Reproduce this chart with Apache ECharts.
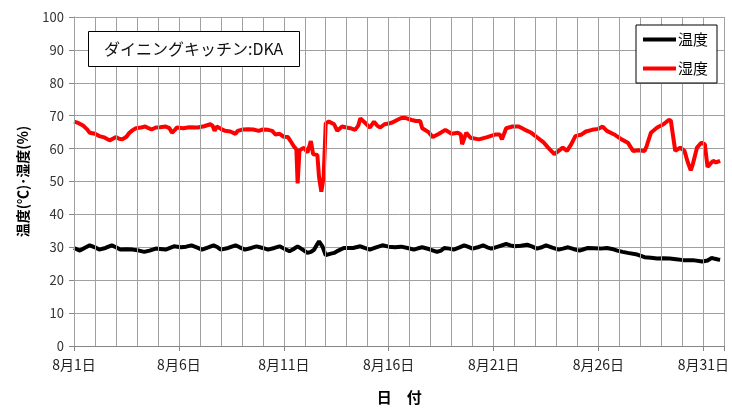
<!DOCTYPE html>
<html>
<head>
<meta charset="utf-8">
<script src="https://cdn.jsdelivr.net/npm/echarts@6/dist/echarts.min.js"></script>
<style>html,body{margin:0;padding:0;background:#fff}#c{width:732px;height:410px}</style>
</head>
<body>
<div id="c"></div>
<script>
// x values: days elapsed since 8月1日 00:00
const dayCategories = ['8月1日','8月2日','8月3日','8月4日','8月5日','8月6日','8月7日','8月8日','8月9日','8月10日','8月11日','8月12日','8月13日','8月14日','8月15日','8月16日','8月17日','8月18日','8月19日','8月20日','8月21日','8月22日','8月23日','8月24日','8月25日','8月26日','8月27日','8月28日','8月29日','8月30日','8月31日'];
const xTickDays = [0, 5, 10, 15, 20, 25, 30];
const humDays = [0.0,0.2,0.43,0.6,0.75,1.0,1.2,1.45,1.7,1.85,2.0,2.15,2.3,2.5,2.64,2.8,2.95,3.2,3.4,3.55,3.7,3.9,4.1,4.37,4.55,4.67,4.8,4.9,5.2,5.5,5.9,6.2,6.5,6.6,6.7,6.8,7.0,7.2,7.45,7.7,7.8,8.05,8.3,8.55,8.8,9.0,9.25,9.45,9.6,9.8,10.0,10.2,10.35,10.5,10.6,10.66,10.75,10.97,11.13,11.29,11.4,11.6,11.68,11.79,11.9,12.0,12.15,12.4,12.55,12.78,13.0,13.17,13.4,13.55,13.65,13.9,14.1,14.3,14.45,14.6,14.8,15.0,15.2,15.4,15.6,15.75,16.1,16.3,16.5,16.6,16.9,17.1,17.4,17.7,18.0,18.3,18.44,18.5,18.7,18.9,19.3,19.7,20.1,20.3,20.4,20.6,20.9,21.2,21.5,21.8,22.1,22.4,22.6,22.9,23.1,23.3,23.5,23.7,23.9,24.2,24.4,24.7,25.0,25.2,25.4,25.75,26.1,26.4,26.65,26.9,27.2,27.3,27.5,27.8,28.1,28.35,28.45,28.66,28.9,29.1,29.25,29.4,29.5,29.7,29.9,30.07,30.2,30.35,30.47,30.6,30.8];
const humValues = [68.2,67.8,67.0,66.0,64.8,64.5,63.8,63.4,62.5,63.0,63.5,63.0,62.8,63.6,64.8,65.6,66.2,66.4,66.7,66.2,65.8,66.4,66.5,66.7,66.2,64.8,65.6,66.4,66.2,66.5,66.4,66.8,67.4,67.0,65.4,66.7,66.0,65.4,65.2,64.5,65.4,65.8,65.9,65.8,65.4,65.8,65.7,65.4,64.3,64.5,63.6,63.5,62.0,60.5,59.8,49.4,59.5,60.3,58.8,62.3,58.3,58.1,51.4,46.9,51.4,67.7,68.2,67.4,65.4,66.7,66.4,66.2,65.7,67.0,69.2,67.7,66.4,68.2,67.0,66.4,67.4,67.6,68.0,68.7,69.3,69.4,68.7,68.4,68.4,66.2,65.0,63.5,64.5,65.7,64.5,64.8,64.3,61.3,64.8,63.3,62.8,63.5,64.3,64.3,62.8,66.2,66.7,66.7,65.7,64.8,63.3,61.8,60.3,58.3,59.3,60.3,59.3,61.3,63.8,64.3,65.2,65.7,66.0,66.7,65.4,64.3,62.8,61.8,59.3,59.5,59.3,60.8,64.8,66.4,67.4,68.7,68.5,59.3,60.3,59.3,56.0,53.4,55.3,60.3,61.8,61.3,54.4,55.5,56.3,55.8,56.3];
const tempDays = [0.0,0.28,0.5,0.75,1.0,1.2,1.5,1.8,2.0,2.2,2.5,2.8,3.1,3.35,3.6,3.9,4.1,4.37,4.76,5.1,5.35,5.6,5.85,6.1,6.4,6.65,6.85,7.0,7.35,7.7,7.9,8.15,8.45,8.7,9.0,9.25,9.55,9.8,10.05,10.27,10.45,10.66,10.9,11.13,11.3,11.45,11.6,11.68,11.76,11.84,12.0,12.2,12.4,12.6,12.86,13.1,13.3,13.65,13.85,14.1,14.4,14.7,15.0,15.3,15.6,15.9,16.2,16.4,16.6,16.95,17.3,17.5,17.65,17.9,18.1,18.35,18.6,18.8,19.0,19.25,19.5,19.7,19.9,20.25,20.6,20.8,21.0,21.3,21.6,21.85,22.06,22.3,22.5,22.8,23.1,23.3,23.55,23.8,24.1,24.3,24.5,24.8,25.1,25.4,25.65,25.9,26.15,26.4,26.85,27.2,27.5,27.8,28.1,28.4,28.7,29.05,29.5,29.95,30.2,30.4,30.55,30.7,30.8];
const tempValues = [29.8,29.0,29.8,30.6,30.0,29.3,29.8,30.6,30.0,29.3,29.4,29.3,29.0,28.6,29.0,29.6,29.5,29.3,30.3,30.0,30.2,30.6,30.0,29.3,30.0,30.6,30.0,29.3,29.8,30.6,30.0,29.3,29.8,30.3,29.8,29.3,29.8,30.3,29.5,28.8,29.4,30.3,29.3,28.3,28.6,29.3,31.0,31.8,31.3,30.3,27.6,28.0,28.3,29.0,29.8,29.8,29.8,30.3,29.8,29.3,30.0,30.6,30.2,30.0,30.2,29.8,29.3,29.7,30.0,29.4,28.6,29.0,29.8,29.6,29.3,29.9,30.6,30.1,29.6,30.0,30.6,30.0,29.6,30.3,31.0,30.6,30.3,30.5,30.8,30.2,29.6,30.0,30.6,29.9,29.3,29.6,30.0,29.5,29.0,29.4,29.8,29.7,29.6,29.8,29.5,29.0,28.6,28.3,27.8,27.0,26.8,26.6,26.7,26.6,26.4,26.1,26.1,25.7,26.0,26.8,26.5,26.3,26.2];
const seriesNames = ['温度', '湿度'];
const titleText = 'ダイニングキッチン:DKA';
const xName = '日　付';
const yName = '温度(℃)･湿度(%)';

const pairs = (xs, ys) => xs.map((x, i) => [x, ys[i]]);
// daily vertical gridlines: one at the start of each day plus the end of the month
const dayStarts = dayCategories.map((_, i) => i).concat([dayCategories.length]);
const FONT = '"Noto Sans CJK JP", "Noto Sans", sans-serif';
const chart = echarts.init(document.getElementById('c'), null, {renderer: 'canvas'});
chart.setOption({
  animation: false,
  backgroundColor: '#fff',
  textStyle: {fontFamily: FONT},
  title: {
    text: titleText, left: 88, top: 31, z: 10,
    padding: [8, 16], borderColor: '#000', borderWidth: 1, backgroundColor: '#fff',
    textStyle: {fontSize: 16, fontWeight: 'normal', color: '#111', fontFamily: FONT, lineHeight: 20}
  },
  legend: {
    orient: 'vertical', left: 636, top: 25, z: 10,
    padding: [7, 9, 7, 7], itemGap: 14, itemWidth: 33, itemHeight: 4,
    borderColor: '#000', borderWidth: 1, backgroundColor: '#fff',
    icon: 'rect',
    textStyle: {fontSize: 15, color: '#000', padding: [0, 0, 0, -3], fontFamily: FONT},
    data: seriesNames
  },
  grid: {left: 74, right: 5, top: 17, bottom: 55},
  xAxis: {
    type: 'value', min: 0, max: 31, interval: 5, position: 'bottom', z: 3,
    name: xName, nameLocation: 'middle', nameGap: 44,
    nameTextStyle: {fontSize: 15, fontWeight: 'bold', color: '#000', fontFamily: FONT},
    axisLine: {show: true, lineStyle: {color: '#868686', width: 1}},
    axisTick: {show: true, length: 5, lineStyle: {color: '#868686'}},
    splitLine: {show: false},
    axisLabel: {
      margin: 12, fontSize: 14, color: '#222', fontFamily: FONT, hideOverlap: false,
      formatter: v => xTickDays.indexOf(v) >= 0 ? dayCategories[v] : ''
    }
  },
  yAxis: {
    type: 'value', min: 0, max: 100, interval: 10,
    name: yName, nameLocation: 'middle', nameGap: 44, nameRotate: 90,
    nameTextStyle: {fontSize: 14, fontWeight: 'bold', color: '#000', fontFamily: FONT},
    axisLine: {show: true, lineStyle: {color: '#868686', width: 1}},
    axisTick: {show: true, length: 5, inside: false, lineStyle: {color: '#868686'}},
    splitLine: {show: true, lineStyle: {color: '#a0a0a0', width: 1}},
    axisLabel: {margin: 10, fontSize: 13, color: '#333', fontFamily: FONT}
  },
  series: [
    {name: 'daygrid', type: 'line', data: pairs(tempDays, tempValues), symbol: 'none', silent: true, z: 1,
     lineStyle: {opacity: 0, width: 0}, itemStyle: {opacity: 0}, emphasis: {disabled: true},
     markLine: {
       silent: true, animation: false, symbol: ['none', 'none'], label: {show: false},
       lineStyle: {color: '#a0a0a0', width: 1, type: 'solid', opacity: 1},
       emphasis: {disabled: true},
       data: dayStarts.map(d => ({xAxis: d}))
     }},
    {name: seriesNames[0], type: 'line', data: pairs(tempDays, tempValues), symbol: 'none',
     lineStyle: {color: '#000', width: 4}, itemStyle: {color: '#000'}, z: 3},
    {name: seriesNames[1], type: 'line', data: pairs(humDays, humValues), symbol: 'none',
     lineStyle: {color: '#ff0000', width: 4}, itemStyle: {color: '#ff0000'}, z: 2}
  ]
});
</script>
</body>
</html>
